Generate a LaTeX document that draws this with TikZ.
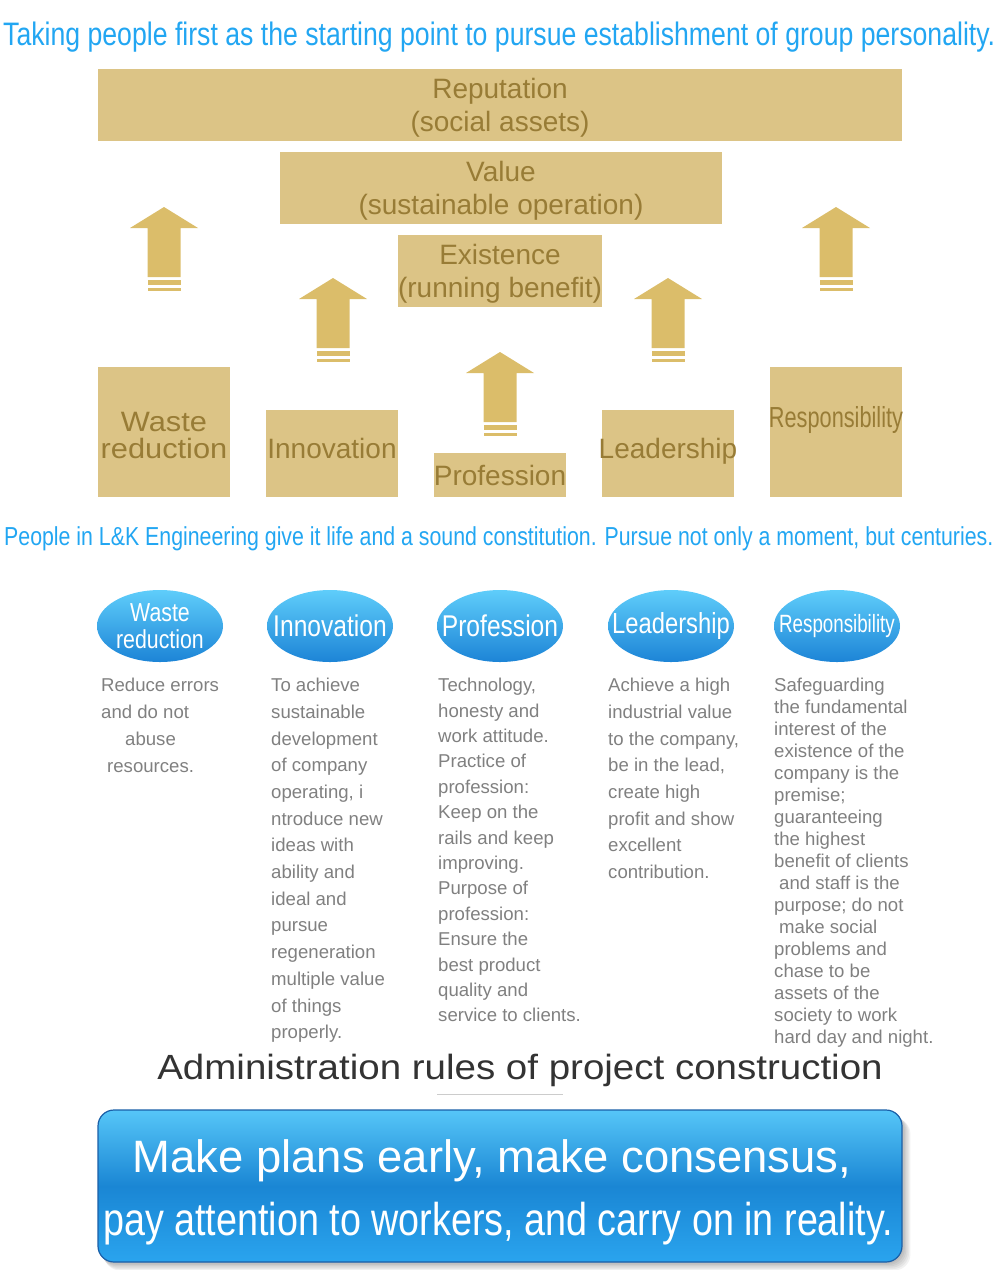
\documentclass[tikz,border=0pt]{standalone}
\usepackage{fontspec}
\setmainfont{Liberation Sans}
\newfontfamily\condfont[FakeStretch=0.82]{Liberation Sans}
\newfontfamily\slimfont[FakeStretch=0.75]{Liberation Sans}
\newfontfamily\widefont[FakeStretch=1.1]{Liberation Sans}
\usetikzlibrary{shapes.geometric}

\definecolor{skyblue}{RGB}{34,166,242}
\definecolor{goldbox}{RGB}{220,196,134}
\definecolor{goldarrow}{RGB}{219,189,106}
\definecolor{goldtext}{RGB}{152,124,54}
\definecolor{greytext}{RGB}{128,128,128}
\definecolor{titletext}{RGB}{51,51,51}
\definecolor{balltop}{RGB}{95,205,250}
\definecolor{ballbottom}{RGB}{28,132,214}
\definecolor{btntop}{RGB}{86,198,248}
\definecolor{btnmid}{RGB}{26,134,212}
\definecolor{btnbottom}{RGB}{42,164,238}
\definecolor{btnedge}{RGB}{26,95,168}

% keep the ellipse at its own size, whatever the label
\newcommand\nowidth[1]{\makebox[0pt][c]{#1}}

\tikzset{
  motto/.style={anchor=base west, inner sep=0pt, text=skyblue},
  gbox/.style={fill=goldbox, inner sep=0pt, align=center, text=goldtext,
    font=\fontsize{28}{33}\selectfont},
  gtext/.style={inner sep=0pt, align=center, text=goldtext,
    font=\fontsize{28}{33}\selectfont},
  ball/.style={ellipse, minimum width=126, minimum height=72, inner sep=0pt,
    top color=balltop, bottom color=ballbottom, text=white, align=center,
    font=\condfont\fontsize{30}{27}\selectfont},
  desc/.style={anchor=north west, inner sep=0pt, align=left, text=greytext},
  btntext/.style={anchor=base, inner sep=0pt, text=white},
}

\begin{document}
\begin{tikzpicture}[x=1pt, y=-1pt]
\useasboundingbox (0,0) rectangle (1000,1270);

% headline
\node[motto, font=\condfont\fontsize{32.5}{36}\selectfont] (headline) at (3,45)
  {Taking people first as the starting point to pursue establishment of group personality.};

% three levels
\node[gbox, minimum width=804, minimum height=72, text depth=0] (reputation) at (500,105) {Reputation\\(social assets)};
\node[gbox, minimum width=442, minimum height=72, text depth=0] (value) at (501,188) {Value\\(sustainable operation)};
\node[gbox, minimum width=200, minimum height=72, text depth=0] (existence) at (500,271) {Existence\\(running benefit)};

% block arrows
\foreach \cx/\ty in {164/207, 333/278, 500/352, 668/278, 836/207}{
  \fill[goldarrow] (\cx,\ty) -- (\cx+34,\ty+21) -- (\cx+16.5,\ty+21) -- (\cx+16.5,\ty+70)
    -- (\cx-16.5,\ty+70) -- (\cx-16.5,\ty+21) -- (\cx-34,\ty+21) -- cycle;
  \fill[goldarrow] (\cx-16.5,\ty+73) rectangle (\cx+16.5,\ty+78);
  \fill[goldarrow] (\cx-16.5,\ty+81) rectangle (\cx+16.5,\ty+84);
}

% five pillars
\node[gbox, minimum width=132, minimum height=130] (wastebox) at (164,432) {};
\node[gbox, minimum width=132, minimum height=87] (innovbox) at (332,453.5) {};
\node[gbox, minimum width=132, minimum height=44] (profbox) at (500,475) {};
\node[gbox, minimum width=132, minimum height=87] (leadbox) at (668,453.5) {};
\node[gbox, minimum width=132, minimum height=130] (respbox) at (836,432) {};

\node[gtext, anchor=north, font=\widefont\fontsize{28}{27}\selectfont] (wastetxt) at (164,412) {Waste\\reduction};
\node[gtext, anchor=base] (innovtxt) at (332,458) {Innovation};
\node[gtext, anchor=base] (proftxt) at (500,485) {Profession};
\node[gtext, anchor=base] (leadtxt) at (668,458) {Leadership};
\node[gtext, anchor=base, font=\slimfont\fontsize{29}{33}\selectfont] (resptxt) at (836,427) {Responsibility};

% second headline
\node[motto, font=\condfont\fontsize{26}{30}\selectfont] (subline) at (4,545)
  {People in L\&K Engineering give it life and a sound constitution. Pursue not only a moment, but centuries.};

% blue balls
\node[ball, font=\condfont\fontsize{26}{27}\selectfont] (wasteball) at (160,626) {\nowidth{Waste}\\\nowidth{reduction}};
\node[ball] (innovball) at (330,626) {\nowidth{Innovation}};
\node[ball] (profball) at (500,626) {\nowidth{Profession}};
\node[ball, font=\condfont\fontsize{29}{27}\selectfont] (leadball) at (671,626) {\nowidth{Leadership}};
\node[ball, font=\slimfont\fontsize{25}{27}\selectfont] (respball) at (837,626) {\nowidth{Responsibility}};

% descriptions
\node[desc, font=\fontsize{18.6}{27}\selectfont] (wastedesc) at (101,678)
  {Reduce errors\\and do not\\\hspace*{24pt}abuse\\\hspace*{6pt}resources.};
\node[desc, font=\fontsize{18.6}{26.7}\selectfont] (innovdesc) at (271,678)
  {To achieve\\sustainable\\development\\of company\\operating, i\\ntroduce new\\ideas with\\ability and\\ideal and\\pursue\\regeneration\\multiple value\\of things\\properly.};
\node[desc, font=\fontsize{18.6}{25.4}\selectfont] (profdesc) at (438,678)
  {Technology,\\honesty and\\work attitude.\\Practice of\\profession:\\Keep on the\\rails and keep\\improving.\\Purpose of\\profession:\\Ensure the\\best product\\quality and\\service to clients.};
\node[desc, font=\fontsize{18.6}{26.7}\selectfont] (leaddesc) at (608,678)
  {Achieve a high\\industrial value\\to the company,\\be in the lead,\\create high\\profit and show\\excellent\\contribution.};
\node[desc, font=\fontsize{18.6}{22}\selectfont] (respdesc) at (774,678)
  {Safeguarding\\the fundamental\\interest of the\\existence of the\\company is the\\premise;\\guaranteeing\\the highest\\benefit of clients\\\hspace*{5pt}and staff is the\\purpose; do not\\\hspace*{5pt}make social\\problems and\\chase to be\\assets of the\\society to work\\hard day and night.};

% rules of construction
\node[anchor=base, inner sep=0pt, text=titletext, font=\widefont\fontsize{35}{40}\selectfont] (rules) at (520,1079)
  {Administration rules of project construction};
\draw[black!20, line width=1] (437,1094) -- (563,1094);

% button with shadow
\foreach \s in {2,4,...,12}
  \fill[black, opacity=0.05, rounded corners=16] (98+\s*0.5,1112+\s*0.5) rectangle (902+\s*0.7,1262+\s*0.7);
\node[rounded corners=16, minimum width=804, minimum height=152, inner sep=0pt, draw=btnedge, line width=1.2,
  top color=btntop, bottom color=btnbottom, middle color=btnmid] (button) at (500,1186) {};
\node[btntext, font=\fontsize{45.4}{50}\selectfont] (planline) at (492,1172) {Make plans early, make consensus,};
\node[btntext, font=\condfont\fontsize{46}{50}\selectfont] (workline) at (498,1235) {pay attention to workers, and carry on in reality.};
\end{tikzpicture}
\end{document}
